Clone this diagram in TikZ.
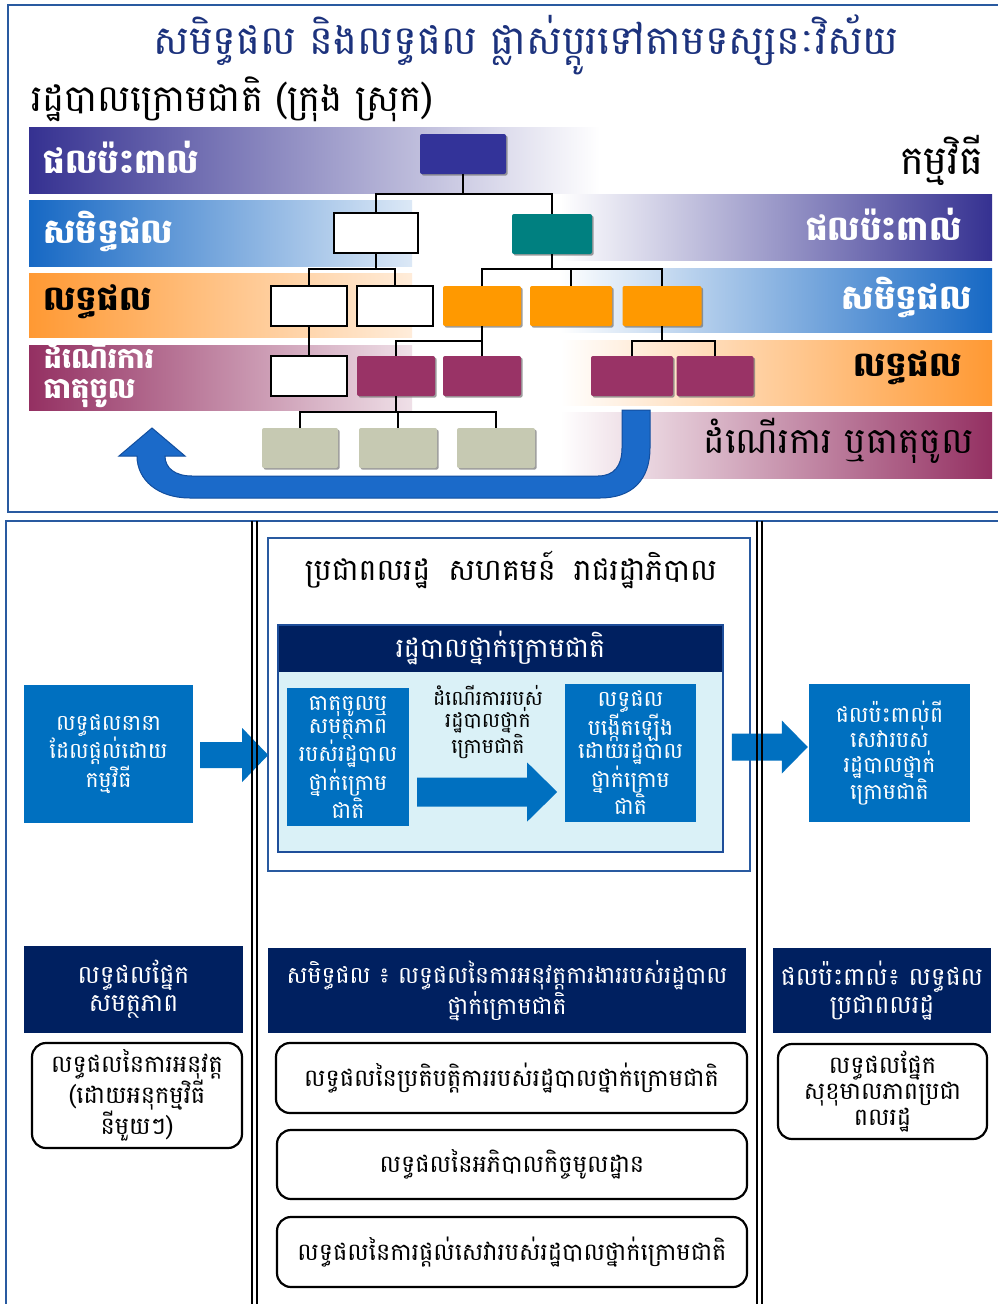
\documentclass[tikz,border=0pt]{standalone}
\usepackage{fontspec}
\newfontfamily\kh[Script=Khmer]{Battambang}
\usetikzlibrary{calc,shadows}

\definecolor{frameblue}{RGB}{41,90,160}
\definecolor{titleblue}{RGB}{28,50,125}
\definecolor{bandindigo}{RGB}{53,49,145}
\definecolor{bandblue}{RGB}{22,104,196}
\definecolor{bandorange}{RGB}{255,153,51}
\definecolor{bandmaroon}{RGB}{148,48,98}
\definecolor{indigobox}{RGB}{51,51,153}
\definecolor{tealbox}{RGB}{0,128,128}
\definecolor{orangebox}{RGB}{255,153,0}
\definecolor{maroonbox}{RGB}{153,51,102}
\definecolor{greybox}{RGB}{198,201,178}
\definecolor{arrowblue}{RGB}{27,106,201}
\definecolor{arrowedge}{RGB}{18,78,158}
\definecolor{boxblue}{RGB}{0,112,192}
\definecolor{navybox}{RGB}{0,32,96}
\definecolor{panelcyan}{RGB}{218,241,247}
\definecolor{panelblue}{RGB}{30,78,154}

% block arrow: start point, tip, shaft half width, head half width, head length
\newcommand\blockarrow[5]{%
  \fill[boxblue] ($#1+(0,-#3)$) -- ($#2+(-#5,-#3)$) -- ($#2+(-#5,-#4)$) -- #2
    -- ($#2+(-#5,#4)$) -- ($#2+(-#5,#3)$) -- ($#1+(0,#3)$) -- cycle;}

\begin{document}
\begin{tikzpicture}[x=1pt,y=-1pt,
  font=\kh,
  link/.style={draw=black, line width=1.8pt},
  wbox/.style={draw=black, line width=1.8pt, fill=white, inner sep=0pt,
    minimum height=40pt},
  cbox/.style={fill=#1, inner sep=0pt, minimum height=40pt, rounded corners=2pt,
    drop shadow={shadow xshift=1.6pt, shadow yshift=-1.6pt, fill=black!55, opacity=.7}},
  bandlabel/.style={font={\kh\bfseries\fontsize{34}{36}\selectfont}},
  bluebox/.style={fill=boxblue, text=white, align=center, inner sep=2pt,
    font={\kh\fontsize{22}{23}\selectfont}},
  navyhead/.style={fill=navybox, text=white, align=center, inner sep=2pt,
    font={\kh\fontsize{25}{28}\selectfont}},
  roundbox/.style={draw=black, line width=2.2pt, rounded corners=14pt, fill=white,
    align=center, inner sep=2pt, font={\kh\fontsize{24}{26}\selectfont}},
  divider/.style={draw=black, line width=2.2pt}
]
\useasboundingbox (0,0) rectangle (998,1304);
\fill[white] (0,0) rectangle (998,1304);

% ---------- upper panel: frame ----------
\draw[frameblue, line width=2.6pt] (998,5) -- (8,5) -- (8,512) -- (998,512);

% left bands (colour fading to the right)
\shade[left color=bandindigo, right color=white] (29,127) rectangle (600,193);
\shade[left color=bandblue, right color=bandblue!15] (29,200) rectangle (412,266);
\shade[left color=bandorange, right color=bandorange!18] (29,273) rectangle (412,337);
\shade[left color=bandmaroon, right color=bandmaroon!15] (29,345) rectangle (412,410);
% right bands (colour growing to the right)
\shade[left color=white, middle color=bandindigo!30, right color=bandindigo] (560,194) rectangle (992,260);
\shade[left color=white, middle color=bandblue!30, right color=bandblue] (560,268) rectangle (992,332);
\shade[left color=white, middle color=bandorange!30, right color=bandorange] (560,340) rectangle (992,405);
\shade[left color=white, middle color=bandmaroon!30, right color=bandmaroon] (560,412) rectangle (992,478);

% titles
\node[text=titleblue, font={\kh\fontsize{40}{42}\selectfont}] (title) at (526,45)
  {សមិទ្ធផល និងលទ្ធផល ផ្លាស់ប្តូរទៅតាមទស្សនៈវិស័យ};
\node[anchor=west, font={\kh\fontsize{37}{40}\selectfont}] (sub) at (28,99)
  {រដ្ឋបាលក្រោមជាតិ (ក្រុង ស្រុក)};

% band labels
\node[bandlabel, text=white, anchor=west] (lImpact) at (40,157) {ផលប៉ះពាល់};
\node[bandlabel, text=white, anchor=west] (lOutcome) at (40,231) {សមិទ្ធផល};
\node[bandlabel, text=black, anchor=west] (lOutput) at (40,302) {លទ្ធផល};
\node[bandlabel, text=white, anchor=west, align=left,
  font={\kh\bfseries\fontsize{29}{30}\selectfont}] (lProcess) at (40,374) {ដំណើរការ\\ធាតុចូល};
\node[anchor=east, font={\kh\fontsize{40}{42}\selectfont}] (rProgram) at (987,160) {កម្មវិធី};
\node[bandlabel, text=white, anchor=east] (rImpact) at (965,224) {ផលប៉ះពាល់};
\node[bandlabel, text=white, anchor=east] (rOutcome) at (975,297) {សមិទ្ធផល};
\node[bandlabel, text=black, anchor=east] (rOutput) at (965,368) {លទ្ធផល};
\node[anchor=east, font={\kh\fontsize{36}{38}\selectfont}] (rProcess) at (977,441) {ដំណើរការ ឬធាតុចូល};

% feedback arrow
\filldraw[fill=arrowblue, draw=arrowedge, line width=1pt]
  (650,410) -- (650,448) .. controls (650,480) and (632,498) .. (600,498)
  -- (190,498) .. controls (158,498) and (137,480) .. (137,456)
  -- (119,456) -- (152,428) -- (185,456) -- (165,456)
  .. controls (165,468) and (175,476) .. (192,476)
  -- (598,476) .. controls (614,476) and (622,466) .. (622,448) -- (622,410) -- cycle;

% bus lines of the tree
\coordinate (b1) at (0,194);
\coordinate (b2) at (0,269);
\coordinate (b3) at (0,341);
\coordinate (b4) at (0,412);

% tree boxes
\node[cbox=indigobox, minimum width=86pt] (top) at (463,154) {};
\node[wbox, minimum width=84pt] (w2) at (376,233) {};
\node[cbox=tealbox, minimum width=80pt] (t2) at (552,234) {};
\node[wbox, minimum width=76pt] (w3a) at (309,306) {};
\node[wbox, minimum width=76pt] (w3b) at (395,306) {};
\node[cbox=orangebox, minimum width=78pt] (o1) at (482,306) {};
\node[cbox=orangebox, minimum width=82pt] (o2) at (571,306) {};
\node[cbox=orangebox, minimum width=79pt] (o3) at (662,306) {};
\node[wbox, minimum width=76pt] (w4) at (309,376) {};
\node[cbox=maroonbox, minimum width=78pt] (m1) at (396,376) {};
\node[cbox=maroonbox, minimum width=78pt] (m2) at (482,376) {};
\node[cbox=maroonbox, minimum width=82pt] (m3) at (632,376) {};
\node[cbox=maroonbox, minimum width=77pt] (m4) at (715,376) {};
\node[cbox=greybox, minimum width=76pt] (g1) at (300,448) {};
\node[cbox=greybox, minimum width=78pt] (g2) at (398,448) {};
\node[cbox=greybox, minimum width=78pt] (g3) at (496,448) {};

% tree connectors
\draw[link] (top.south) -- (top.south |- b1) -| (w2.north);
\draw[link] (top.south |- b1) -| (t2.north);
\draw[link] (w2.south) -- (w2.south |- b2) -| (w3a.north);
\draw[link] (w2.south |- b2) -| (w3b.north);
\draw[link] (t2.south) -- (t2.south |- b2) -| (o1.north);
\draw[link] (t2.south |- b2) -| (o3.north);
\draw[link] (o2.north) -- (o2.north |- b2);
\draw[link] (w3a.south) -- (w4.north);
\draw[link] (o1.south) -- (o1.south |- b3) -| (m1.north);
\draw[link] (o1.south |- b3) -- (m2.north);
\draw[link] (o3.south) -- (o3.south |- b3) -| (m3.north);
\draw[link] (o3.south |- b3) -| (m4.north);
\draw[link] (m1.south) -- (m1.south |- b4) -| (g1.north);
\draw[link] (m1.south |- b4) -| (g3.north);
\draw[link] (g2.north) -- (g2.north |- b4);

% ---------- lower panel ----------
\node[bluebox, minimum width=169pt, minimum height=138pt,
  font={\kh\fontsize{22}{25.5}\selectfont}] (prog) at (108.5,754)
  {លទ្ធផលនានា\\ដែលផ្តល់ដោយ\\កម្មវិធី};
\node[bluebox, minimum width=161pt, minimum height=138pt,
  font={\kh\fontsize{22}{25}\selectfont}] (impact) at (889.5,753)
  {ផលប៉ះពាល់ពី\\សេវារបស់\\រដ្ឋបាលថ្នាក់\\ក្រោមជាតិ};

% citizens / community / government box
\draw[draw=frameblue, line width=2.4pt, fill=white] (268,538) rectangle (750,871);
\node[font={\kh\fontsize{30}{32}\selectfont}] (actors) at (511,570)
  {ប្រជាពលរដ្ឋ\hspace{8pt} សហគមន៍\hspace{8pt} រាជរដ្ឋាភិបាល};
\draw[draw=panelblue, line width=2pt, fill=panelcyan] (278,625) rectangle (723,852);
\node[navyhead, minimum width=445pt, minimum height=47pt,
  font={\kh\fontsize{27}{29}\selectfont}] (sna) at (500.5,648.5) {រដ្ឋបាលថ្នាក់ក្រោមជាតិ};
\draw[panelblue, line width=2pt] (278,625) rectangle (723,852);
\node[bluebox, minimum width=122pt, minimum height=138pt] (inputs) at (348,757)
  {ធាតុចូលឬ\\សមត្ថភាព\\របស់រដ្ឋបាល\\ថ្នាក់ក្រោម\\ជាតិ};
\node[bluebox, minimum width=131pt, minimum height=138pt] (outputs) at (630.5,753)
  {លទ្ធផល\\បង្កើតឡើង\\ដោយរដ្ឋបាល\\ថ្នាក់ក្រោម\\ជាតិ};
\node[align=center, font={\kh\fontsize{20.5}{22.5}\selectfont}] (process) at (488,722)
  {ដំណើរការរបស់\\រដ្ឋបាលថ្នាក់\\ក្រោមជាតិ};

% block arrows between the boxes
\blockarrow{($(prog.east)+(7,1)$)}{($(prog.east)+(75,1)$)}{13}{27}{26}
\blockarrow{($(inputs.east)+(8,35)$)}{($(inputs.east)+(148,35)$)}{14.5}{29.5}{30}
\blockarrow{($(impact.west)+(-77,-6)$)}{($(impact.west)+(-1,-6)$)}{13.5}{26.5}{26}

% frame of the lower panel and column dividers
\draw[frameblue, line width=2.6pt] (998,521) -- (6,521) -- (6,1304);
\draw[divider] (252,521) -- (252,1304);
\draw[divider] (257,521) -- (257,1304);
\draw[divider] (757,521) -- (757,1304);
\draw[divider] (762,521) -- (762,1304);

% headings of the three columns
\node[navyhead, minimum width=219pt, minimum height=87pt] (capH) at (133.5,989.5)
  {លទ្ធផលផ្នែក\\សមត្ថភាព};
\node[navyhead, minimum width=478pt, minimum height=85pt,
  font={\kh\fontsize{23.5}{27}\selectfont}] (perfH) at (507,990.5)
  {សមិទ្ធផល ៖ លទ្ធផលនៃការអនុវត្តការងាររបស់រដ្ឋបាល\\ថ្នាក់ក្រោមជាតិ};
\node[navyhead, minimum width=218pt, minimum height=85pt] (citH) at (882,990.5)
  {ផលប៉ះពាល់៖ លទ្ធផល\\ប្រជាពលរដ្ឋ};

% result boxes
\node[roundbox, minimum width=210pt, minimum height=105pt] (capR) at (137,1095.5)
  {លទ្ធផលនៃការអនុវត្ត\\(ដោយអនុកម្មវិធី\\នីមួយៗ)};
\node[roundbox, minimum width=471pt, minimum height=70pt] (perf1) at (511.5,1078)
  {លទ្ធផលនៃប្រតិបត្តិការរបស់រដ្ឋបាលថ្នាក់ក្រោមជាតិ};
\node[roundbox, minimum width=470pt, minimum height=69pt] (perf2) at (512,1164.5)
  {លទ្ធផលនៃអភិបាលកិច្ចមូលដ្ឋាន};
\node[roundbox, minimum width=470pt, minimum height=70pt] (perf3) at (512,1252)
  {លទ្ធផលនៃការផ្តល់សេវារបស់រដ្ឋបាលថ្នាក់ក្រោមជាតិ};
\node[roundbox, minimum width=209pt, minimum height=95pt] (citR) at (882.5,1091.5)
  {លទ្ធផលផ្នែក\\សុខុមាលភាពប្រជា\\ពលរដ្ឋ};
\end{tikzpicture}
\end{document}
